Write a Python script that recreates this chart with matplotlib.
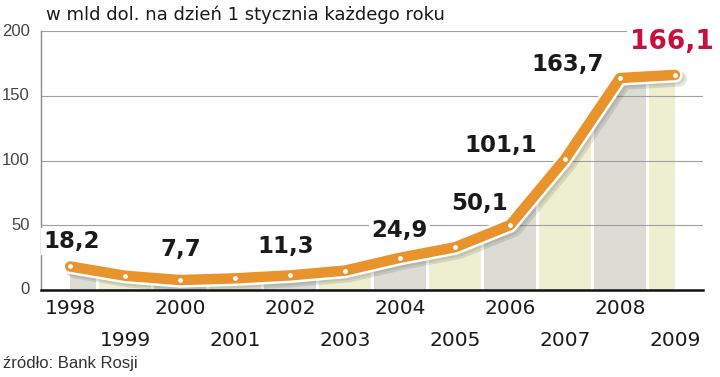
import numpy as np
import matplotlib.pyplot as plt
import matplotlib.patheffects as pe

# data
years = [1998, 1999, 2000, 2001, 2002, 2003, 2004, 2005, 2006, 2007, 2008, 2009]
values = [18.2, 11.0, 7.7, 9.0, 11.3, 15.0, 24.9, 33.0, 50.1, 101.1, 163.7, 166.1]
labels = {1998: "18,2", 2000: "7,7", 2002: "11,3", 2004: "24,9",
          2006: "50,1", 2007: "101,1", 2008: "163,7", 2009: "166,1"}
yticks = [0, 50, 100, 150, 200]

# label offsets in pixels (dx, dy)
offsets = {1998: (1, 25), 2000: (1, 31), 2002: (-4, 29), 2004: (-1, 27),
           2006: (-30, 22), 2007: (-64, 14), 2008: (-52, 14), 2009: (-3, 33)}

orange = "#e8932b"
grey_bar = "#dcdcd5"
yellow_bar = "#eeeed1"

fig = plt.figure(figsize=(7.2, 3.77), dpi=100)
ax = fig.add_axes([41/720, 1-290/377, (703-41)/720, (290-31)/377])
ax.set_xlim(1997.47, 2009.51)
ax.set_ylim(0, 200)

# area under the line, used to clip the striped bars
area = ax.fill_between(years, values, 0, color="none", lw=0)
clip = area.get_paths()[0]
bar_colors = [grey_bar if y % 2 == 0 else yellow_bar for y in years]
bars = ax.bar(years, [200]*len(years), width=0.95, color=bar_colors, zorder=1)
for b in bars:
    b.set_clip_path(clip, ax.transData)

# grid
for yv in yticks[1:]:
    ax.axhline(yv, color="#a0a0a0", lw=0.8, zorder=2)

# line: soft shadow + white outline, then orange, then white dots
ax.plot(years, values, color="white", lw=11, solid_capstyle="round",
        solid_joinstyle="round", zorder=3,
        path_effects=[pe.SimpleLineShadow(offset=(3, -3), shadow_color="k", alpha=0.10),
                      pe.SimpleLineShadow(offset=(1.5, -1.5), shadow_color="k", alpha=0.08),
                      pe.Normal()])
ax.plot(years, values, color=orange, lw=7.5, solid_capstyle="round",
        solid_joinstyle="round", zorder=4)
ax.plot(years, values, "o", color="white", ms=3.5, mec="none", zorder=5)

for yr, txt in labels.items():
    v = values[years.index(yr)]
    dx, dy = offsets[yr]
    red = yr == 2009
    ax.annotate(txt, (yr, v), xytext=(dx, dy), textcoords="offset pixels",
                ha="center", va="center", fontsize=19 if red else 16.5,
                fontweight="bold", color="#c8103f" if red else "#1a1a1a",
                bbox=dict(boxstyle="square,pad=0.1", fc="white", ec="none"),
                zorder=6)

# axes styling
for s in ["top", "right"]:
    ax.spines[s].set_visible(False)
ax.spines["left"].set_color("#8a8a8a")
ax.spines["left"].set_linewidth(1)
ax.spines["bottom"].set_color("#111111")
ax.spines["bottom"].set_linewidth(1.8)
ax.spines["bottom"].set_zorder(7)

ax.set_yticks(yticks)
ax.tick_params(axis="y", length=0, pad=8, labelsize=12, labelcolor="#444444")
for t in ax.get_yticklabels():
    t.set_family(["Liberation Sans", "DejaVu Sans"])
    t.set_verticalalignment("center")

even = [y for y in years if y % 2 == 0]
odd = [y for y in years if y % 2 == 1]
ax.set_xticks(even)
ax.set_xticklabels([str(y) for y in even])
ax.set_xticks(odd, minor=True)
ax.set_xticklabels([str(y) for y in odd], minor=True)
ax.tick_params(axis="x", which="both", length=0, labelsize=14.5, labelcolor="#1a1a1a")
ax.tick_params(axis="x", which="major", pad=6.5)
ax.tick_params(axis="x", which="minor", pad=29.5)

fig.text(46/720, 1-20/377, "w mld dol. na dzień 1 stycznia każdego roku",
         fontsize=13, va="baseline", ha="left", color="#1a1a1a")
fig.text(3/720, 1-368/377, "źródło: Bank Rosji", fontsize=12, va="baseline",
         ha="left", color="#333333", family=["Liberation Sans Narrow", "Liberation Sans", "DejaVu Sans"])

fig.savefig("out.png", dpi=100)
